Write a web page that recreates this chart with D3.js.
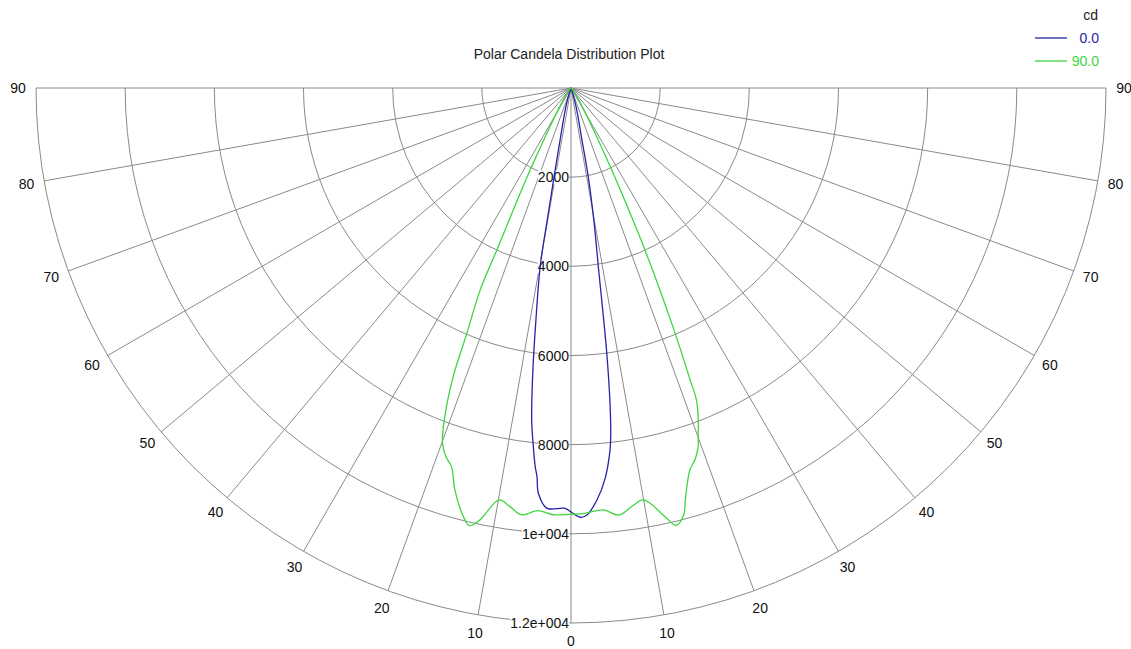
<!DOCTYPE html>
<html>
<head>
<meta charset="utf-8">
<script src="https://cdn.jsdelivr.net/npm/d3@7"></script>
<style>
  html, body { margin: 0; padding: 0; background: #fff; }
  svg { display: block; }
  text { font-family: Arial, "Liberation Sans", sans-serif; }
</style>
</head>
<body>
<svg id="chart" width="1131" height="649"></svg>
<script>
// ---------------- data ----------------
const title = "Polar Candela Distribution Plot";
const unitLabel = "cd";
const seriesNames = ["0.0", "90.0"];

// C0 plane (blue): gamma angle (deg, left side negative) and candela
const blueAngles = [-90, -40, -30, -20, -16, -14, -12, -10.8, -10.2, -9.8, -8.6, -7.7, -6.75, -6.1, -5.4, -5.0, -4.6, -3.3, -2.0, -0.8, 0,
                    1.2, 2.1, 3.6, 5.0, 6.15, 6.5, 7.05, 7.7, 8.7, 9.8, 11, 12, 14, 16, 20, 30, 40, 90];
const blueCd     = [0, 5, 15, 60, 330, 620, 1120, 2030, 3000, 4050, 5260, 6380, 7500, 8010, 8530, 8750, 9120, 9440, 9440, 9430, 9510,
                    9630, 9590, 9260, 8790, 8170, 7870, 7130, 5970, 4055, 3000, 2030, 1120, 620, 330, 60, 15, 5, 0];

// C90 plane (green)
const greenAngles = [-90, -60, -50, -40, -35, -31, -28.5, -27, -26.5, -25.5, -24.6, -24.2, -23.0, -22.2, -21.0, -19.9, -18.7, -17.5, -16.1, -14.1, -13.1, -11.9, -9.9, -8.3, -6.6, -4.5, -2.4, 0,
                     1.9, 4.4, 6.4, 8.3, 10.0, 12.4, 13.5, 14.8, 15.5, 16.3, 17.3, 18.5, 19.5, 20.2, 20.8, 21.9, 22.2, 23.0, 24.55, 25.5, 26.4, 27, 28.5, 31, 35, 40, 50, 60, 90];
const greenCd     = [0, 15, 30, 80, 220, 500, 990, 1650, 2050, 2870, 4000, 4970, 5980, 7000, 7900, 8470, 8740, 8910, 9390, 9910, 10080, 9900, 9380, 9490, 9640, 9510, 9580, 9560,
                     9545, 9490, 9640, 9480, 9380, 9850, 10090, 9900, 9590, 9280, 8970, 8780, 8540, 8255, 8045, 7545, 7070, 5980, 4000, 2870, 2050, 1650, 990, 500, 220, 80, 30, 15, 0];

const ringValues = [2000, 4000, 6000, 8000, 10000, 12000];
const ringLabels = ["2000", "4000", "6000", "8000", "1e+004", "1.2e+004"];
const spokeAngles = [-90, -80, -70, -60, -50, -40, -30, -20, -10, 0, 10, 20, 30, 40, 50, 60, 70, 80, 90];
const spokeLabels = ["90", "80", "70", "60", "50", "40", "30", "20", "10", "0", "10", "20", "30", "40", "50", "60", "70", "80", "90"];

// ---------------- drawing ----------------
const colors = ["#2424a8", "#3ed63e"];
const gridColor = "#8a8a8a";
const cx = 571, cy = 88;
const svg = d3.select("#chart");

const r = d3.scaleLinear().domain([0, 12000]).range([0, 535]);
const toRad = d3.scaleLinear().domain([0, 180]).range([0, Math.PI]);

const g = svg.append("g").attr("transform", `translate(${cx},${cy})`);

// rings
g.append("g").selectAll("path").data(ringValues).join("path")
  .attr("d", v => { const p = d3.path(); p.moveTo(r(v), 0); p.arc(0, 0, r(v), 0, Math.PI); return p.toString(); })
  .attr("fill", "none").attr("stroke", gridColor).attr("stroke-width", 1);

// spokes
g.append("g").selectAll("line").data(spokeAngles).join("line")
  .attr("x1", 0).attr("y1", 0)
  .attr("x2", a => r(12000) * Math.sin(toRad(a)))
  .attr("y2", a => r(12000) * Math.cos(toRad(a)))
  .attr("stroke", gridColor).attr("stroke-width", 1);

// spoke labels
g.append("g").selectAll("text").data(spokeAngles).join("text")
  .attr("x", a => (r(12000) + 18) * Math.sin(toRad(a)))
  .attr("y", a => (r(12000) + 18) * Math.cos(toRad(a)))
  .attr("text-anchor", "middle").attr("dominant-baseline", "central")
  .attr("font-size", 14).attr("fill", "#111")
  .text((a, i) => spokeLabels[i]);

// ring labels with opaque background
const rl = g.append("g").selectAll("g").data(ringValues).join("g")
  .attr("transform", v => `translate(-2,${r(v)})`);
rl.append("text")
  .attr("text-anchor", "end").attr("dominant-baseline", "central")
  .attr("font-size", 14).attr("fill", "#111")
  .text((v, i) => ringLabels[i]);
rl.each(function() {
  const t = d3.select(this).select("text");
  const b = t.node().getBBox();
  d3.select(this).insert("rect", "text")
    .attr("x", b.x).attr("y", b.y + 1).attr("width", b.width).attr("height", b.height - 2)
    .attr("fill", "#fff");
});

// curves
const radial = d3.lineRadial()
  .angle(d => Math.PI - toRad(d[0]))
  .radius(d => r(d[1]))
  .curve(d3.curveCatmullRom.alpha(0.5));

const series = [
  d3.zip(blueAngles, blueCd),
  d3.zip(greenAngles, greenCd)
];
g.append("g").selectAll("path").data(series).join("path")
  .attr("d", radial)
  .attr("fill", "none")
  .attr("stroke", (d, i) => colors[i])
  .attr("stroke-width", 1.3);

// title
svg.append("text").attr("x", 569).attr("y", 54)
  .attr("text-anchor", "middle").attr("dominant-baseline", "central")
  .attr("font-size", 14).attr("fill", "#222")
  .text(title);

// legend
svg.append("text").attr("x", 1098).attr("y", 15)
  .attr("text-anchor", "end").attr("dominant-baseline", "central")
  .attr("font-size", 14).attr("fill", "#222").text(unitLabel);
const lg = svg.append("g").selectAll("g").data(seriesNames).join("g")
  .attr("transform", (d, i) => `translate(0,${38 + i * 23})`);
lg.append("line").attr("x1", 1035).attr("x2", 1067).attr("y1", 0).attr("y2", 0)
  .attr("stroke", (d, i) => colors[i]).attr("stroke-width", 1.3);
lg.append("text").attr("x", 1099).attr("y", 0)
  .attr("text-anchor", "end").attr("dominant-baseline", "central")
  .attr("font-size", 14).attr("fill", (d, i) => colors[i]).text(d => d);
</script>
</body>
</html>
